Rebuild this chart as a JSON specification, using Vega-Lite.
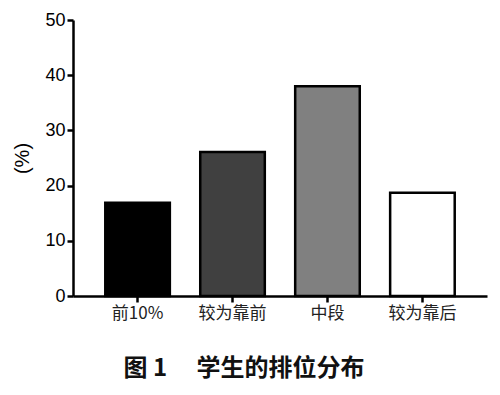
{
  "$schema": "https://vega.github.io/schema/vega-lite/v6.json",
  "width": 414,
  "height": 276,
  "autosize": {"type": "none"},
  "padding": {"left": 73, "top": 20, "right": 13, "bottom": 99},
  "background": "white",
  "title": {
    "text": "图 1　 学生的排位分布",
    "orient": "bottom",
    "anchor": "middle",
    "dx": -36,
    "offset": 36,
    "font": "Noto Sans CJK SC",
    "fontSize": 24,
    "fontWeight": "bold",
    "color": "#111"
  },
  "data": {
    "values": [
      {"rank": "前10%", "pct": 16.9},
      {"rank": "较为靠前", "pct": 26.1},
      {"rank": "中段", "pct": 38.0},
      {"rank": "较为靠后", "pct": 18.7}
    ]
  },
  "mark": {"type": "bar", "stroke": "black", "strokeWidth": 2.5},
  "encoding": {
    "x": {
      "field": "rank",
      "type": "nominal",
      "sort": null,
      "scale": {"paddingInner": 0.32, "paddingOuter": 0.34},
      "axis": {
        "title": null,
        "labelAngle": 0,
        "labelFont": "Noto Sans CJK SC",
        "labelFontSize": 17,
        "labelColor": "#222",
        "labelPadding": 3,
        "domainColor": "black",
        "domainWidth": 2.5,
        "tickColor": "black",
        "tickWidth": 2.5,
        "tickSize": 6
      }
    },
    "y": {
      "field": "pct",
      "type": "quantitative",
      "scale": {"domain": [0, 50], "nice": false},
      "axis": {
        "title": "(%)",
        "titleFont": "Liberation Sans",
        "titleFontSize": 20,
        "titleFontWeight": "normal",
        "titleColor": "black",
        "titlePadding": 12,
        "values": [0, 10, 20, 30, 40, 50],
        "grid": false,
        "labelFont": "Liberation Sans",
        "labelFontSize": 18,
        "labelColor": "black",
        "labelPadding": 2,
        "domainColor": "black",
        "domainWidth": 2.5,
        "tickColor": "black",
        "tickWidth": 2.5,
        "tickSize": 6
      }
    },
    "color": {
      "field": "rank",
      "type": "nominal",
      "legend": null,
      "scale": {
        "domain": ["前10%", "较为靠前", "中段", "较为靠后"],
        "range": ["#000000", "#404040", "#808080", "#ffffff"]
      }
    }
  },
  "config": {"view": {"stroke": null}}
}
